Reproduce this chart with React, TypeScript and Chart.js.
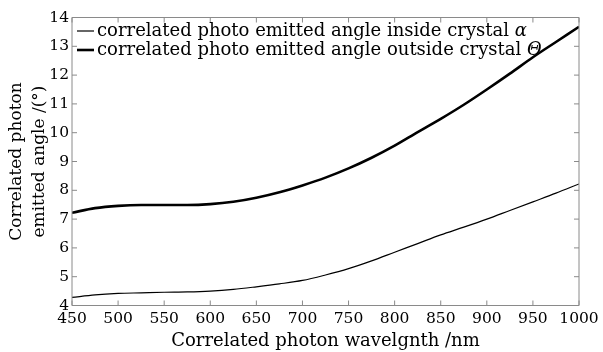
import React, { useEffect, useRef } from "react";
import { Chart, registerables } from "chart.js";

Chart.register(...registerables);

const wavelengths = [450, 475, 500, 525, 550, 575, 600, 625, 650, 675, 700, 725, 750, 775, 800, 825, 850, 875, 900, 925, 950, 975, 1000];
const insideAngle = [4.28, 4.37, 4.42, 4.44, 4.46, 4.47, 4.5, 4.56, 4.65, 4.75, 4.87, 5.06, 5.28, 5.55, 5.85, 6.15, 6.45, 6.72, 7.0, 7.3, 7.6, 7.9, 8.22];
const outsideAngle = [7.22, 7.38, 7.46, 7.49, 7.49, 7.49, 7.52, 7.6, 7.74, 7.93, 8.17, 8.44, 8.76, 9.13, 9.55, 10.02, 10.48, 10.97, 11.5, 12.05, 12.62, 13.15, 13.68];
const xTicks = [450, 500, 550, 600, 650, 700, 750, 800, 850, 900, 950, 1000];
const yTicks = [4, 5, 6, 7, 8, 9, 10, 11, 12, 13, 14];
const legendTexts = ["correlated photo emitted angle inside crystal ", "correlated photo emitted angle outside crystal "];
const legendSymbols = ["α", "Θ"];
const lineWidths = [1.2, 2.6];

const FONT = "'DejaVu Serif', serif";

const framePlugin = {
  id: "frame",
  afterDraw(chart: any) {
    const { ctx, chartArea } = chart;
    const { left, right, top, bottom } = chartArea;
    const xs = chart.scales.x;
    const ys = chart.scales.y;
    ctx.save();
    ctx.strokeStyle = "#8a8a8a";
    ctx.lineWidth = 1;
    ctx.beginPath();
    ctx.rect(left, top, right - left, bottom - top);
    ctx.stroke();
    const tl = 5;
    ctx.beginPath();
    xTicks.forEach((v) => {
      const px = xs.getPixelForValue(v);
      ctx.moveTo(px, bottom);
      ctx.lineTo(px, bottom - tl);
      ctx.moveTo(px, top);
      ctx.lineTo(px, top + tl);
    });
    yTicks.forEach((v) => {
      const py = ys.getPixelForValue(v);
      ctx.moveTo(left, py);
      ctx.lineTo(left + tl, py);
      ctx.moveTo(right, py);
      ctx.lineTo(right - tl, py);
    });
    ctx.stroke();
    ctx.restore();
  },
};

const legendPlugin = {
  id: "customLegend",
  afterDraw(chart: any) {
    const { ctx, chartArea } = chart;
    const { left, top } = chartArea;
    ctx.save();
    legendTexts.forEach((t, i) => {
      const y = top + 13.5 + i * 19;
      ctx.strokeStyle = "#000";
      ctx.lineWidth = lineWidths[i];
      ctx.beginPath();
      ctx.moveTo(left + 5, y);
      ctx.lineTo(left + 22, y);
      ctx.stroke();
      ctx.fillStyle = "#000";
      ctx.textBaseline = "middle";
      ctx.textAlign = "left";
      ctx.font = `18px ${FONT}`;
      const tx = left + 25;
      ctx.fillText(t, tx, y);
      const w = ctx.measureText(t).width;
      ctx.font = `italic 18px ${FONT}`;
      ctx.fillText(legendSymbols[i], tx + w, y);
    });
    ctx.restore();
  },
};

export default function App() {
  const ref = useRef<HTMLCanvasElement | null>(null);
  useEffect(() => {
    if (!ref.current) return;
    const chart = new Chart(ref.current, {
      type: "line",
      data: {
        datasets: [
          {
            label: legendTexts[0] + legendSymbols[0],
            data: wavelengths.map((x, i) => ({ x, y: insideAngle[i] })),
            borderColor: "#000",
            borderWidth: lineWidths[0],
            pointRadius: 0,
            cubicInterpolationMode: "monotone",
            fill: false,
          },
          {
            label: legendTexts[1] + legendSymbols[1],
            data: wavelengths.map((x, i) => ({ x, y: outsideAngle[i] })),
            borderColor: "#000",
            borderWidth: lineWidths[1],
            pointRadius: 0,
            cubicInterpolationMode: "monotone",
            fill: false,
          },
        ],
      },
      options: {
        animation: false,
        responsive: false,
        maintainAspectRatio: false,
        layout: { padding: { top: 17.5, right: 24, left: 0, bottom: 0 } },
        plugins: { legend: { display: false }, tooltip: { enabled: false } },
        scales: {
          x: {
            type: "linear",
            min: 450,
            max: 1000,
            afterBuildTicks: (s: any) => {
              s.ticks = xTicks.map((v) => ({ value: v }));
            },
            afterFit: (s: any) => {
              s.height = 46.5;
            },
            grid: { display: false, drawTicks: false },
            border: { display: false },
            ticks: {
              color: "#000",
              font: { family: FONT, size: 15.5 },
              padding: 4,
              maxRotation: 0,
              autoSkip: false,
              callback: (v: any) => String(v),
            },
            title: {
              display: true,
              text: "Correlated photon wavelgnth /nm",
              color: "#000",
              font: { family: FONT, size: 18, lineHeight: 1.2 },
              padding: { top: 0, bottom: 0 },
            },
          },
          y: {
            type: "linear",
            min: 4,
            max: 14,
            afterBuildTicks: (s: any) => {
              s.ticks = yTicks.map((v) => ({ value: v }));
            },
            afterFit: (s: any) => {
              s.width = 72;
            },
            grid: { display: false, drawTicks: false },
            border: { display: false },
            ticks: {
              color: "#000",
              font: { family: FONT, size: 15.5 },
              padding: 3,
              autoSkip: false,
              callback: (v: any) => String(v),
            },
            title: {
              display: true,
              text: ["Correlated photon", "emitted angle /(°)"],
              color: "#000",
              font: { family: FONT, size: 17, lineHeight: 1.35 },
              padding: { top: 5.5, bottom: 0 },
            },
          },
        },
      },
      plugins: [framePlugin, legendPlugin],
    });
    return () => chart.destroy();
  }, []);
  return (
    <div style={{ position: "fixed", left: 0, top: 0, width: 603, height: 352, background: "#fff" }}>
      <canvas ref={ref} width={603} height={352} style={{ display: "block" }} />
    </div>
  );
}
